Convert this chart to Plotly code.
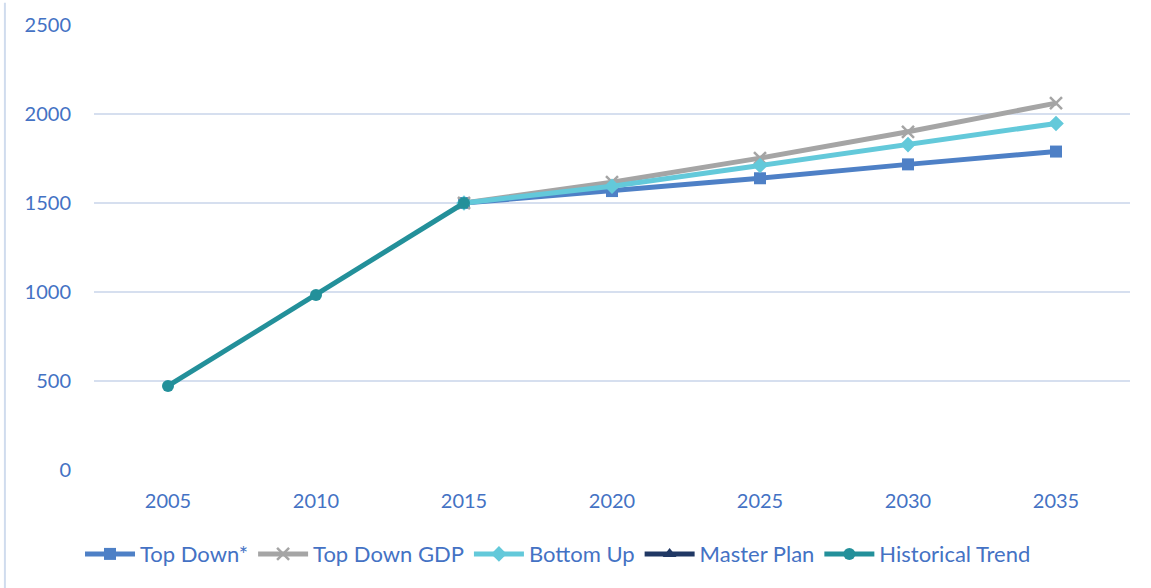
import plotly.graph_objects as go

years = ["2005", "2010", "2015", "2020", "2025", "2030", "2035"]
top_down = [None, None, 1500, 1567, 1639, 1717, 1789]
top_down_gdp = [None, None, 1500, 1617, 1752, 1900, 2061]
bottom_up = [None, None, 1500, 1594, 1711, 1828, 1947]
master_plan = [None, None, None, None, None, None, None]
historical = [472, 983, 1500, None, None, None, None]

TXT = "#4472C4"
GRID = "#D6DFEF"
LW = 5
MS = 12

fig = go.Figure()
fig.add_trace(go.Scatter(x=years, y=top_down, name="Top Down*", mode="lines+markers",
                         line=dict(color="#4E80C6", width=LW),
                         marker=dict(symbol="square", size=MS, color="#4E80C6")))
fig.add_trace(go.Scatter(x=years, y=top_down_gdp, name="Top Down GDP", mode="lines+markers",
                         line=dict(color="#A5A5A5", width=LW),
                         marker=dict(symbol="x-thin", size=MS, color="#A5A5A5",
                                     line=dict(color="#A5A5A5", width=2.5))))
fig.add_trace(go.Scatter(x=years, y=bottom_up, name="Bottom Up", mode="lines+markers",
                         line=dict(color="#63C9DA", width=LW),
                         marker=dict(symbol="diamond", size=MS, color="#63C9DA")))
fig.add_trace(go.Scatter(x=years, y=master_plan, name="Master Plan", mode="lines+markers",
                         line=dict(color="#203864", width=LW),
                         marker=dict(symbol="triangle-up", size=MS, color="#203864")))
fig.add_trace(go.Scatter(x=years, y=historical, name="Historical Trend", mode="lines+markers",
                         line=dict(color="#23909A", width=LW),
                         marker=dict(symbol="circle", size=MS, color="#23909A")))

fig.update_layout(
    width=1151, height=588,
    paper_bgcolor="white", plot_bgcolor="white",
    margin=dict(l=94, r=21, t=20, b=118),
    font=dict(family="Lato, Open Sans, sans-serif", size=20, color=TXT),
    showlegend=True,
    legend=dict(orientation="h", x=-0.0135, xanchor="left", y=-0.189, yanchor="middle",
                font=dict(size=22, color=TXT), itemwidth=50, tracegroupgap=0,
                bgcolor="rgba(0,0,0,0)"),
    xaxis=dict(type="category", range=[-0.5, 6.5], showgrid=False, zeroline=False,
               showline=False, ticks="", ticklabelstandoff=17,
               tickfont=dict(size=20, color=TXT)),
    yaxis=dict(range=[0, 2500], dtick=500, showgrid=True, gridcolor=GRID, gridwidth=1.5,
               zeroline=False, showline=False, ticks="", ticklabelstandoff=22,
               tickfont=dict(size=20, color=TXT)),
    shapes=[dict(type="line", xref="paper", yref="paper", x0=-0.086, x1=-0.086,
                 y0=-0.27, y1=1.05, line=dict(color="#D0DCEE", width=2))],
)

fig.write_html("out.html", config={"displayModeBar": False},
               post_script="document.body.style.margin='0';")
